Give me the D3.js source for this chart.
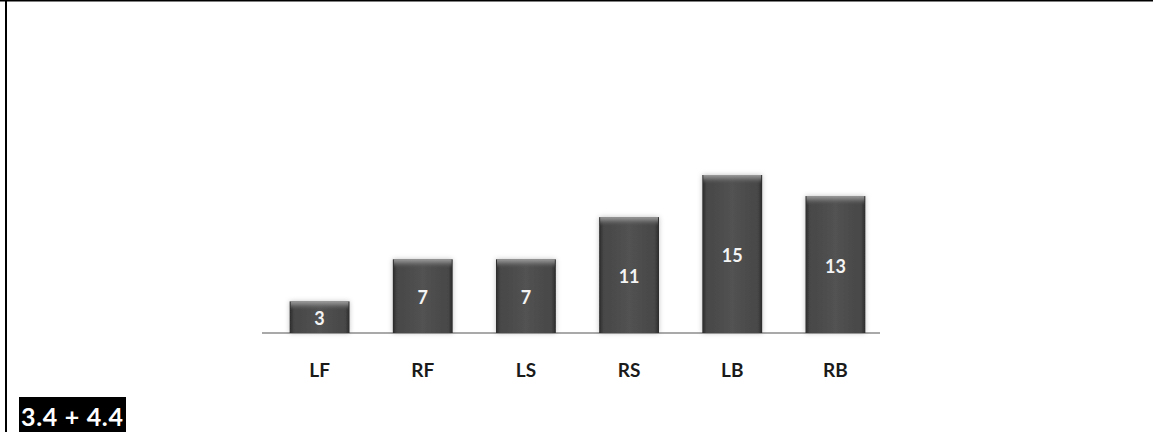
<html lang="en">
<head>
  <meta charset="utf-8">
  <title>Bars</title>
  <script src="https://d3js.org/d3.v7.min.js"></script>
  <style>
    body { margin: 0; background: white; }
  </style>
</head>
<body>
<div id="my_dataviz"></div>
<script>
// data
var categories = ["LF", "RF", "LS", "RS", "LB", "RB"];
var values = [3, 7, 7, 11, 15, 13];
var titleText = "3.4 + 4.4";

var width = 1153, height = 432;

var svg = d3.select("#my_dataviz")
  .append("svg")
    .attr("width", width)
    .attr("height", height);

// gradients for the bevelled bars
var defs = svg.append("defs");
var sideGrad = defs.append("linearGradient").attr("id", "side")
  .attr("x1", "0").attr("x2", "1").attr("y1", "0").attr("y2", "0");
sideGrad.append("stop").attr("offset", "0").attr("stop-color", "#2a2a2a");
sideGrad.append("stop").attr("offset", "0.07").attr("stop-color", "#474747");
sideGrad.append("stop").attr("offset", "0.5").attr("stop-color", "#525252");
sideGrad.append("stop").attr("offset", "0.93").attr("stop-color", "#474747");
sideGrad.append("stop").attr("offset", "1").attr("stop-color", "#2a2a2a");

var topGrad = defs.append("linearGradient").attr("id", "topbevel")
  .attr("x1", "0").attr("x2", "0").attr("y1", "0").attr("y2", "1");
topGrad.append("stop").attr("offset", "0").attr("stop-color", "#a0a0a0").attr("stop-opacity", 0.95);
topGrad.append("stop").attr("offset", "0.35").attr("stop-color", "#7e7e7e").attr("stop-opacity", 0.85);
topGrad.append("stop").attr("offset", "1").attr("stop-color", "#525252").attr("stop-opacity", 0);

var shadow = defs.append("filter").attr("id", "shadow")
  .attr("x", "-20%").attr("y", "-20%").attr("width", "140%").attr("height", "140%");
shadow.append("feDropShadow").attr("dx", 0).attr("dy", 0).attr("stdDeviation", 2.5)
  .attr("flood-color", "#000").attr("flood-opacity", 0.25);

// frame: top and left lines
svg.append("line")
  .attr("x1", 0).attr("x2", width).attr("y1", 0.75).attr("y2", 0.75)
  .attr("stroke", "black").attr("stroke-width", 1.5);
svg.append("line")
  .attr("x1", 6).attr("x2", 6).attr("y1", 0).attr("y2", height)
  .attr("stroke", "black").attr("stroke-width", 2);

// scales
var x = d3.scaleBand()
  .domain(categories)
  .range([268, 887])
  .paddingInner(0.42)
  .paddingOuter(0.21);

var y = d3.scaleLinear()
  .domain([0, 15])
  .range([333, 175]);

// axis line
svg.append("line")
  .attr("x1", x.range()[0] - 6).attr("x2", x.range()[1] - 7)
  .attr("y1", y(0)).attr("y2", y(0))
  .attr("stroke", "#8c8c8c").attr("stroke-width", 1.5);

// bars
var bars = svg.selectAll(".bar")
  .data(values)
  .enter()
  .append("g")
    .attr("class", "bar");

bars.append("rect")
  .attr("x", function(d, i) { return x(categories[i]); })
  .attr("y", function(d) { return y(d); })
  .attr("width", x.bandwidth())
  .attr("height", function(d) { return y(0) - y(d); })
  .attr("fill", "url(#side)")
  .attr("filter", "url(#shadow)");

bars.append("rect")
  .attr("x", function(d, i) { return x(categories[i]) + 1; })
  .attr("y", function(d) { return y(d); })
  .attr("width", x.bandwidth() - 2)
  .attr("height", 9)
  .attr("fill", "url(#topbevel)");

// value labels
bars.append("text")
  .attr("x", function(d, i) { return x(categories[i]) + x.bandwidth() / 2; })
  .attr("y", function(d) { return (y(d) + y(0)) / 2 + 8; })
  .attr("text-anchor", "middle")
  .style("font-family", "Lato, 'Open Sans', sans-serif")
  .style("font-weight", "bold")
  .style("font-size", "18px")
  .style("fill", "#f4f4f4")
  .text(function(d) { return d; });

// category labels
svg.selectAll(".cat")
  .data(categories)
  .enter()
  .append("text")
    .attr("class", "cat")
    .attr("x", function(d) { return x(d) + x.bandwidth() / 2; })
    .attr("y", 377)
    .attr("text-anchor", "middle")
    .style("font-family", "Lato, 'Open Sans', sans-serif")
    .style("font-weight", "bold")
    .style("font-size", "19px")
    .style("fill", "#1a1a1a")
    .text(function(d) { return d; });

// title box at bottom left
svg.append("rect")
  .attr("x", 19).attr("y", 397)
  .attr("width", 107).attr("height", 35)
  .attr("fill", "black");
svg.append("text")
  .attr("x", 21).attr("y", 426)
  .attr("textLength", 102)
  .attr("lengthAdjust", "spacing")
  .style("font-family", "Lato, 'Open Sans', sans-serif")
  .style("font-weight", "bold")
  .style("font-size", "25px")
  .style("fill", "white")
  .text(titleText);
</script>
</body>
</html>
